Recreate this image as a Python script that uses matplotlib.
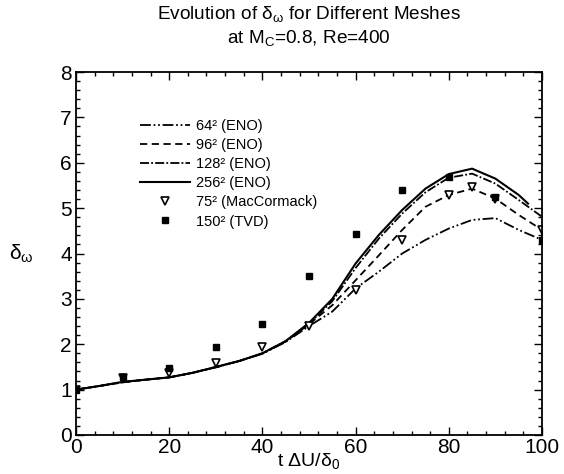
import matplotlib
matplotlib.use("Agg")
import matplotlib.pyplot as plt
from matplotlib.ticker import MultipleLocator

plt.rcParams['font.family'] = ['Liberation Sans', 'DejaVu Sans']
plt.rcParams['mathtext.fontset'] = 'custom'
plt.rcParams['mathtext.rm'] = 'Liberation Sans'
plt.rcParams['mathtext.it'] = 'Liberation Sans'
plt.rcParams['mathtext.bf'] = 'Liberation Sans'

# ---- data ----
t = [0, 5, 10, 15, 20, 25, 30, 35, 40, 45, 50, 55, 60, 65, 70, 75, 80, 85, 90, 95, 100]
t_256 = [0, 5, 10, 15, 20, 25, 30, 35, 40, 45, 50, 55, 60, 65, 70, 75, 80, 85, 90, 95, 97]
eno_64 = [1.0, 1.08, 1.16, 1.22, 1.27, 1.37, 1.49, 1.63, 1.79, 2.05, 2.40, 2.72, 3.23, 3.60, 4.00, 4.30, 4.55, 4.74, 4.78, 4.52, 4.30]
eno_96 = [1.0, 1.08, 1.16, 1.22, 1.27, 1.37, 1.49, 1.63, 1.80, 2.06, 2.44, 2.86, 3.41, 3.96, 4.52, 5.03, 5.29, 5.43, 5.21, 4.85, 4.52]
eno_128 = [1.0, 1.08, 1.17, 1.22, 1.27, 1.37, 1.50, 1.63, 1.80, 2.07, 2.45, 2.95, 3.68, 4.33, 4.88, 5.35, 5.67, 5.76, 5.54, 5.18, 4.81]
eno_256 = [1.0, 1.08, 1.17, 1.22, 1.27, 1.37, 1.50, 1.63, 1.80, 2.07, 2.47, 3.00, 3.78, 4.41, 4.96, 5.43, 5.75, 5.87, 5.65, 5.29, 5.10]

t_mac = [0, 10, 20, 30, 40, 50, 60, 70, 80, 85, 90, 100]
mac_75 = [1.0, 1.25, 1.36, 1.59, 1.93, 2.40, 3.19, 4.30, 5.29, 5.47, 5.21, 4.52]
t_tvd = [0, 10, 20, 30, 40, 50, 60, 70, 80, 90, 100]
tvd_150 = [1.0, 1.28, 1.47, 1.95, 2.44, 3.50, 4.44, 5.40, 5.69, 5.24, 4.30]

labels = ['64² (ENO)', '96² (ENO)', '128² (ENO)', '256² (ENO)', '75² (MacCormack)', '150² (TVD)']

fig = plt.figure(figsize=(5.64, 4.74), dpi=100)
ax = fig.add_axes([76/564, 1-435/474, (542-76)/564, (435-72)/474])

lw = 1.3
h1, = ax.plot(t, eno_64, color='black', lw=lw, ls=(0, (6, 1.5, 1, 1.5, 1, 1.5)))
h2, = ax.plot(t, eno_96, color='black', lw=lw, ls=(0, (4, 2.5)))
h3, = ax.plot(t, eno_128, color='black', lw=lw, ls=(0, (5, 1.2, 1, 1.2)))
h4, = ax.plot(t_256, eno_256, color='black', lw=lw+0.2, ls='-')
h5, = ax.plot(t_mac, mac_75, ls='none', marker='v', ms=6, mfc='white', mec='black', mew=1.2)
h6, = ax.plot(t_tvd, tvd_150, ls='none', marker='s', ms=4.5, mfc='black', mec='black')

ax.set_xlim(0, 100)
ax.set_ylim(0, 8)
ax.xaxis.set_major_locator(MultipleLocator(20))
ax.xaxis.set_minor_locator(MultipleLocator(4))
ax.yaxis.set_major_locator(MultipleLocator(1))
ax.yaxis.set_minor_locator(MultipleLocator(0.2))
ax.tick_params(which='both', direction='in', top=True, right=True, labelsize=15, width=1)
ax.tick_params(which='major', length=6)
ax.tick_params(which='minor', length=3)
ax.tick_params(axis='x', pad=2)
ax.tick_params(axis='y', pad=3)
for s in ax.spines.values():
    s.set_linewidth(1.3)

ax.set_xlabel(r'$\mathrm{t\ \Delta U/\delta_0}$', fontsize=14, labelpad=-4)
ax.set_ylabel(r'$\mathrm{\delta_\omega}$', fontsize=15, rotation=0, va='center', ha='center')
ax.yaxis.set_label_coords(-0.118, 0.50)

fig.text(309/564, 1-14/474, r'Evolution of $\mathrm{\delta_\omega}$ for Different Meshes', ha='center', va='center', fontsize=13.7)
fig.text(309/564, 1-38/474, r'at M$_\mathrm{C}$=0.8, Re=400', ha='center', va='center', fontsize=13.7)

fig.legend([h1, h2, h3, h4, h5, h6], labels, loc='upper left',
           bbox_to_anchor=(140/564, 1-119/474), frameon=False, fontsize=10.5,
           handlelength=3.4, handletextpad=0.45, labelspacing=0.35, borderpad=0,
           borderaxespad=0)

fig.savefig('out.png', dpi=100)
